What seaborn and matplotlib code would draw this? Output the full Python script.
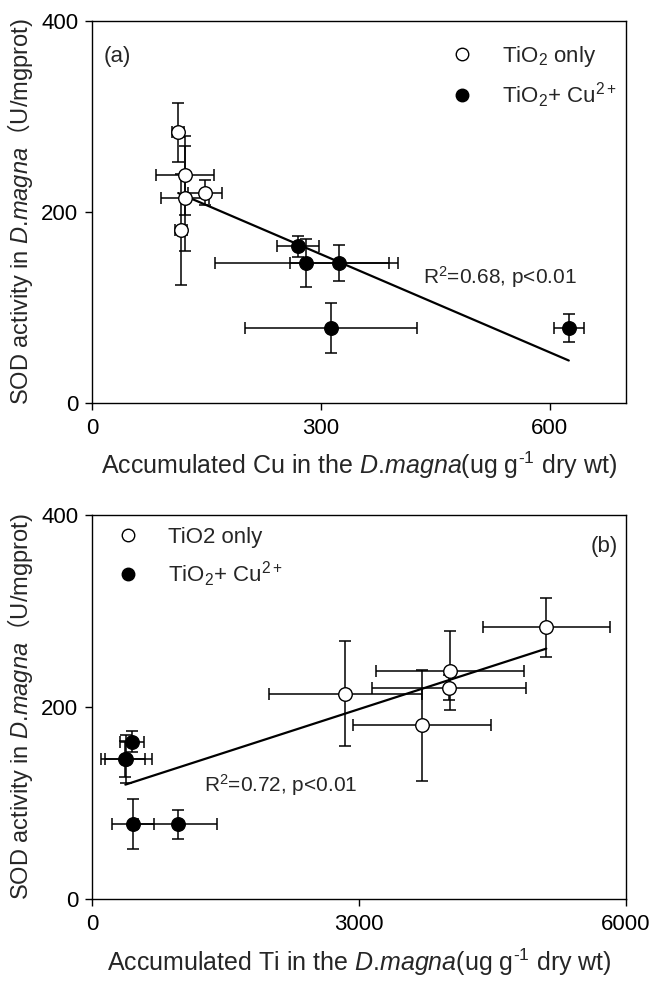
import numpy as np
import pandas as pd
import matplotlib
matplotlib.use("Agg")
import matplotlib.pyplot as plt
import seaborn as sns
from matplotlib.lines import Line2D

# ---------------- data ----------------
groups = ["TiO2 only"] * 5 + ["TiO2 + Cu2+"] * 5
sod = [283, 238, 220, 214, 181, 164, 146, 146, 78, 78]
sod_err = [31, 41, 13, 55, 58, 11, 25, 19, 26, 15]
cu = [113, 122, 148, 122, 117, 270, 281, 324, 313, 625]
cu_err = [8, 38, 22, 31, 8, 28, 120, 65, 113, 20]
ti = [5104, 4026, 4014, 2846, 3708, 449, 385, 375, 461, 962]
ti_err = [711, 833, 865, 862, 780, 135, 285, 225, 240, 440]

xticks_a = [0, 300, 600]
xticks_b = [0, 3000, 6000]
yticks = [0, 200, 400]

df = pd.DataFrame({"group": groups, "sod": sod, "sod_err": sod_err,
                   "cu": cu, "cu_err": cu_err, "ti": ti, "ti_err": ti_err})

# ---------------- style ----------------
sns.set_style("ticks")
plt.rcParams["font.family"] = ["Liberation Sans", "Noto Sans CJK SC", "DejaVu Sans"]
plt.rcParams["mathtext.fontset"] = "custom"
plt.rcParams["mathtext.rm"] = "Liberation Sans"
plt.rcParams["mathtext.it"] = "Liberation Sans:italic"
plt.rcParams["mathtext.sf"] = "Liberation Sans"
plt.rcParams["mathtext.bf"] = "Noto Sans CJK SC"

fig = plt.figure(figsize=(6.54, 9.84), dpi=100)
ax_a = fig.add_axes([0.1407, 0.5908, 0.8165, 0.3882])
ax_b = fig.add_axes([0.1407, 0.0864, 0.8165, 0.3902])

face = {"TiO2 only": "white", "TiO2 + Cu2+": "black"}

dmagna = r"$\mathit{D}$.$\mathit{magna}$"
unit = "(ug g$^{\\mathsf{\u2010" + "1}}$ dry wt)"


def draw(ax, xcol, xerrcol, xlim, xticks, xlabel):
    # error bars
    for g in ["TiO2 only", "TiO2 + Cu2+"]:
        sub = df[df.group == g]
        ax.errorbar(sub[xcol], sub["sod"], xerr=sub[xerrcol], yerr=sub["sod_err"],
                    fmt="none", ecolor="black", elinewidth=1.1, capsize=4.3,
                    capthick=1.1, zorder=2)
    # regression line
    slope, intercept = np.polyfit(df[xcol], df["sod"], 1)
    xs = np.array([df[xcol].min(), df[xcol].max()])
    sns.lineplot(x=xs, y=slope * xs + intercept, ax=ax, color="black",
                 linewidth=1.6, zorder=3)
    # points
    for g in ["TiO2 only", "TiO2 + Cu2+"]:
        sub = df[df.group == g]
        sns.scatterplot(data=sub, x=xcol, y="sod", ax=ax, color=face[g],
                        edgecolor="black", linewidth=1.0, s=95, zorder=4,
                        legend=False)
    ax.set_xlim(*xlim)
    ax.set_ylim(0, 400)
    ax.set_xticks(xticks)
    ax.set_yticks(yticks)
    ax.tick_params(direction="out", length=5, width=1, labelsize=16,
                   color="black", labelcolor="black")
    ax.tick_params(axis="x", pad=6)
    ax.tick_params(axis="y", pad=5)
    for sp in ax.spines.values():
        sp.set_visible(True)
        sp.set_color("black")
        sp.set_linewidth(1.0)
    ax.set_xlabel(xlabel, fontsize=18, labelpad=8)
    ax.set_ylabel("SOD activity in " + dmagna + r"$\mathbf{（}$U/mgprot)",
                  fontsize=17, labelpad=4)


draw(ax_a, "cu", "cu_err", (0, 700), xticks_a,
     "Accumulated Cu in the " + dmagna + unit)
draw(ax_b, "ti", "ti_err", (0, 6000), xticks_b,
     "Accumulated Ti in the " + dmagna + unit)

ax_a.text(15, 362, "(a)", fontsize=16, ha="left", va="center")
ax_a.text(434, 132, r"R$^{\mathsf{2}}$=0.68, p<0.01", fontsize=15,
          ha="left", va="center")
ax_b.text(5913, 367, "(b)", fontsize=16, ha="right", va="center")
ax_b.text(1254, 119, r"R$^{\mathsf{2}}$=0.72, p<0.01", fontsize=15,
          ha="left", va="center")

h_open = Line2D([], [], linestyle="none", marker="o", markersize=9,
                markerfacecolor="white", markeredgecolor="black", markeredgewidth=1.0)
h_fill = Line2D([], [], linestyle="none", marker="o", markersize=9,
                markerfacecolor="black", markeredgecolor="black")

ax_a.legend([h_open, h_fill],
            [r"TiO$_{\mathsf{2}}$ only", r"TiO$_{\mathsf{2}}$+ Cu$^{\mathsf{2+}}$"],
            loc="upper left", bbox_to_anchor=(0.672, 0.94), frameon=False,
            fontsize=16, handlelength=1.0, handletextpad=1.3,
            labelspacing=0.55, borderpad=0, borderaxespad=0)
ax_b.legend([h_open, h_fill],
            ["TiO2 only", r"TiO$_{\mathsf{2}}$+ Cu$^{\mathsf{2+}}$"],
            loc="upper left", bbox_to_anchor=(0.047, 0.97), frameon=False,
            fontsize=16, handlelength=1.0, handletextpad=1.3,
            labelspacing=0.55, borderpad=0, borderaxespad=0)

fig.savefig("out.png", dpi=100, facecolor="white")
